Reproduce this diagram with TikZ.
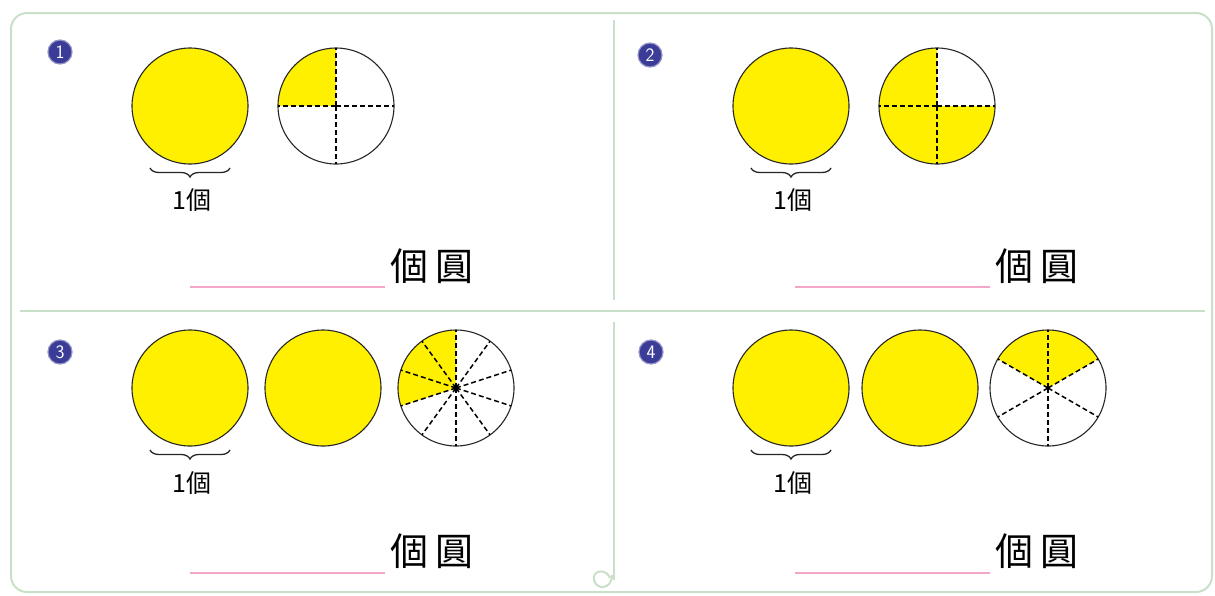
\documentclass[tikz,border=0pt]{standalone}
\usepackage{fontspec}
\newfontfamily\cjk{Noto Sans CJK TC}
\usetikzlibrary{decorations.pathreplacing}
\definecolor{yel}{HTML}{FFF000}
\definecolor{frame}{HTML}{C8E0C8}
\definecolor{badge}{HTML}{3B3B98}
\definecolor{pinkline}{HTML}{F4A6C8}
\tikzset{
  x=1pt,y=-1pt,
  full/.style={draw=black!85,line width=1.1pt,fill=yel},
  ring/.style={draw=black!85,line width=1.1pt},
  cut/.style={draw=black,line width=1.5pt,dash pattern=on 5pt off 3pt},
  badgenode/.style={circle,fill=badge,draw=badge!55,line width=1.2pt,minimum size=24pt,inner sep=0pt,text=white,font=\sffamily\fontsize{19}{19}\selectfont},
  onelabel/.style={font=\cjk\fontsize{25}{25}\selectfont,inner sep=0pt},
  answer/.style={font=\cjk\fontsize{38}{38}\selectfont,inner sep=0pt},
  blank/.style={draw=pinkline,line width=2pt},
  bracestyle/.style={decorate,decoration={brace,mirror,amplitude=9pt},line width=1.3pt,draw=black!85},
  border/.style={draw=frame,line width=2pt}
}
\begin{document}
\begin{tikzpicture}
\useasboundingbox (0,0) rectangle (1215,595);
% frame
\draw[border,rounded corners=16pt] (11,13) rectangle (1212,592);
\draw[border] (614,20) -- (614,300);
\draw[border] (614,322) -- (614,580);
\draw[border] (20,311) -- (1205,311);
\draw[border] (612,575) .. controls (612,590) and (596,590) .. (594,580) .. controls (592,570) and (606,568) .. (610,578);

% badges
\node[badgenode] (b1) at (60,52) {1};
\node[badgenode] (b2) at (650,55) {2};
\node[badgenode] (b3) at (60,352) {3};
\node[badgenode] (b4) at (651,352) {4};

% panel 1
\node[full,circle,minimum size=116pt,inner sep=0pt] (p1a) at (190,106) {};
\coordinate (p1b) at (336,106);
\begin{scope}[shift={(p1b)},y=1pt]
\fill[yel] (0,0) -- (90:58) arc[start angle=90,end angle=180,radius=58] -- cycle;
\draw[ring] (0,0) circle[radius=58];
\foreach \a in {90,180,270,360} \draw[cut] (0,0) -- (\a:58);
\end{scope}
\coordinate (br1l) at (150,168); \coordinate (br1r) at (230,168);
\draw[bracestyle] (br1l) -- (br1r);
\node[onelabel] (l1) at (192,200) {1個};
\coordinate (ln1a) at (190,287); \coordinate (ln1b) at (385,287);
\draw[blank] (ln1a) -- (ln1b);
\node[answer] (a1) at (432,266) {個\,圓};

% panel 2
\node[full,circle,minimum size=116pt,inner sep=0pt] (p2a) at (791,106) {};
\coordinate (p2b) at (937,106);
\begin{scope}[shift={(p2b)},y=1pt]
\fill[yel] (0,0) -- (90:58) arc[start angle=90,end angle=360,radius=58] -- cycle;
\draw[ring] (0,0) circle[radius=58];
\foreach \a in {90,180,270,360} \draw[cut] (0,0) -- (\a:58);
\end{scope}
\coordinate (br2l) at (751,168); \coordinate (br2r) at (831,168);
\draw[bracestyle] (br2l) -- (br2r);
\node[onelabel] (l2) at (793,200) {1個};
\coordinate (ln2a) at (795,287); \coordinate (ln2b) at (990,287);
\draw[blank] (ln2a) -- (ln2b);
\node[answer] (a2) at (1037,266) {個\,圓};

% panel 3
\node[full,circle,minimum size=116pt,inner sep=0pt] (p3a) at (190,388) {};
\node[full,circle,minimum size=116pt,inner sep=0pt] (p3b) at (323,388) {};
\coordinate (p3c) at (456,388);
\begin{scope}[shift={(p3c)},y=1pt]
\fill[yel] (0,0) -- (90:58) arc[start angle=90,end angle=198,radius=58] -- cycle;
\draw[ring] (0,0) circle[radius=58];
\foreach \a in {90,126,...,414} \draw[cut] (0,0) -- (\a:58);
\end{scope}
\coordinate (br3l) at (150,450); \coordinate (br3r) at (230,450);
\draw[bracestyle] (br3l) -- (br3r);
\node[onelabel] (l3) at (192,483) {1個};
\coordinate (ln3a) at (190,573); \coordinate (ln3b) at (385,573);
\draw[blank] (ln3a) -- (ln3b);
\node[answer] (a3) at (432,551) {個\,圓};

% panel 4
\node[full,circle,minimum size=116pt,inner sep=0pt] (p4a) at (791,388) {};
\node[full,circle,minimum size=116pt,inner sep=0pt] (p4b) at (920,388) {};
\coordinate (p4c) at (1048,388);
\begin{scope}[shift={(p4c)},y=1pt]
\fill[yel] (0,0) -- (30:58) arc[start angle=30,end angle=150,radius=58] -- cycle;
\draw[ring] (0,0) circle[radius=58];
\foreach \a in {90,150,...,390} \draw[cut] (0,0) -- (\a:58);
\end{scope}
\coordinate (br4l) at (751,450); \coordinate (br4r) at (831,450);
\draw[bracestyle] (br4l) -- (br4r);
\node[onelabel] (l4) at (793,483) {1個};
\coordinate (ln4a) at (795,573); \coordinate (ln4b) at (990,573);
\draw[blank] (ln4a) -- (ln4b);
\node[answer] (a4) at (1037,551) {個\,圓};
\end{tikzpicture}
\end{document}
